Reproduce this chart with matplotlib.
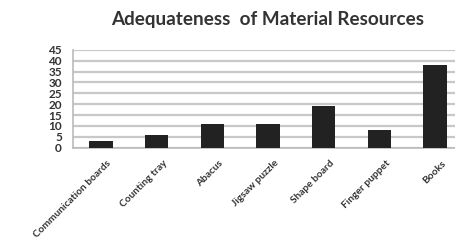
import numpy as np
import matplotlib
matplotlib.use('Agg')
import matplotlib.pyplot as plt
import matplotlib.transforms as mtransforms

categories = ['Communication boards', 'Counting tray', 'Abacus', 'Jigsaw puzzle',
              'Shape board', 'Finger puppet', 'Books']
values = [3, 6, 11, 11, 19, 8, 38]
yticks = [0, 5, 10, 15, 20, 25, 30, 35, 40, 45]

plt.rcParams['font.family'] = ['Lato', 'DejaVu Sans']

fig = plt.figure(figsize=(4.55, 2.46), dpi=100)
ax = fig.add_axes([73 / 455, 1 - 147.5 / 246, 1 - 73 / 455, 97.5 / 246])

x = np.arange(len(categories))
ax.bar(x, values, width=0.42, color='#222222', zorder=3)

ax.set_ylim(0, 45)
ax.set_xlim(-0.5, 6.36)
ax.set_yticks(yticks)
ax.set_yticklabels([str(t) for t in yticks], fontsize=8.5, fontweight='bold', color='#333333')
ax.set_xticks(x)
ax.set_xticklabels(categories, rotation=45, ha='right', rotation_mode='anchor',
                   fontsize=7.3, fontweight='bold', color='#333333')
ax.tick_params(axis='y', length=0, pad=8)
ax.tick_params(axis='x', length=0, pad=8)
# nudge labels right so their ends sit under the bars
offset = mtransforms.ScaledTranslation(6 / 100, 0, fig.dpi_scale_trans)
for lbl in ax.get_xticklabels():
    lbl.set_transform(lbl.get_transform() + offset)

ax.yaxis.grid(True, color='#c8c8c8', linewidth=1.6, zorder=0)
for side in ['top', 'right']:
    ax.spines[side].set_visible(False)
ax.spines['left'].set_color('#bbbbbb')
ax.spines['bottom'].set_color('#bbbbbb')
ax.spines['left'].set_linewidth(1.2)
ax.spines['bottom'].set_linewidth(1.2)

fig.text(268 / 455, 1 - 20 / 246, 'Adequateness  of Material Resources',
         ha='center', va='center', fontsize=13.6, fontweight='bold', color='#333333')

fig.savefig('out.png', dpi=100)
